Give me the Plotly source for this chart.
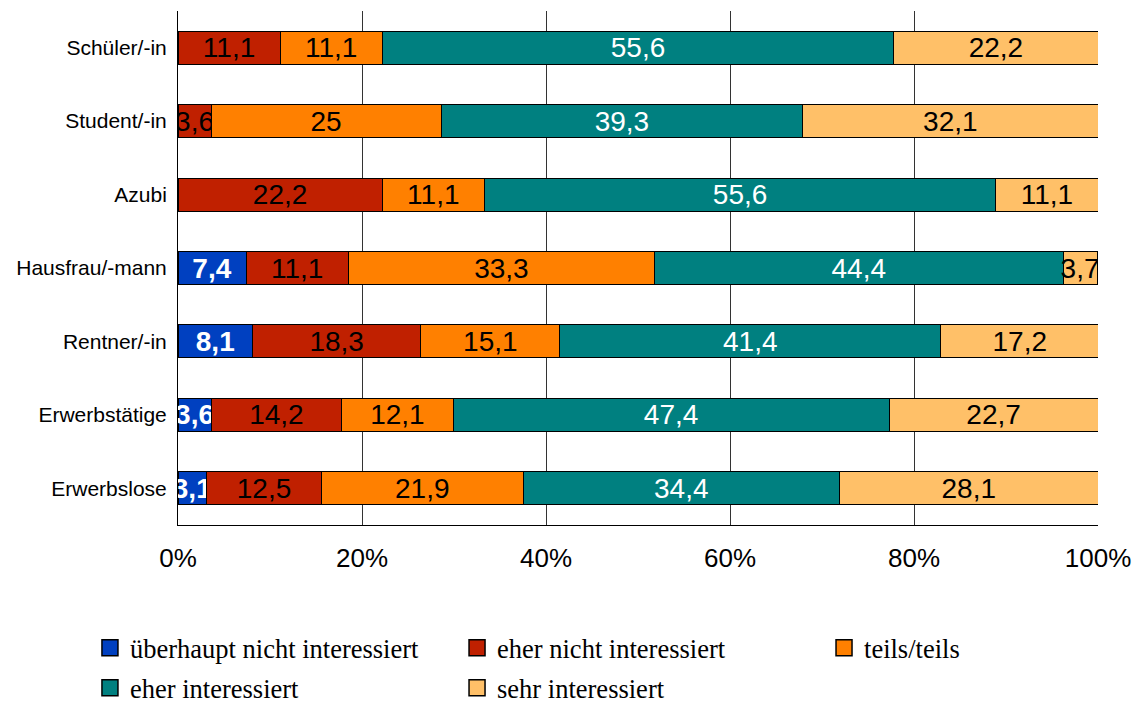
import plotly.graph_objects as go

categories = ["Schüler/-in", "Student/-in", "Azubi", "Hausfrau/-mann",
              "Rentner/-in", "Erwerbstätige", "Erwerbslose"]
series_names = ["überhaupt nicht interessiert", "eher nicht interessiert",
                "teils/teils", "eher interessiert", "sehr interessiert"]
ueberhaupt_nicht = [0, 0, 0, 7.4, 8.1, 3.6, 3.1]
eher_nicht = [11.1, 3.6, 22.2, 11.1, 18.3, 14.2, 12.5]
teils = [11.1, 25, 11.1, 33.3, 15.1, 12.1, 21.9]
eher_int = [55.6, 39.3, 55.6, 44.4, 41.4, 47.4, 34.4]
sehr_int = [22.2, 32.1, 11.1, 3.7, 17.2, 22.7, 28.1]
tick_vals = [0, 20, 40, 60, 80, 100]
tick_labels = ["0%", "20%", "40%", "60%", "80%", "100%"]

series = [ueberhaupt_nicht, eher_nicht, teils, eher_int, sehr_int]
colors = ["#0040C0", "#C02000", "#FF8000", "#008080", "#FFC068"]
text_colors = ["white", "black", "black", "white", "black"]
text_weights = ["bold", "normal", "normal", "normal", "normal"]

# legend slots (one legend per entry so the layout matches 3 + 2 rows)
legend_ids = ["legend", "legend2", "legend3", "legend4", "legend5"]
legend_x = [-0.0957, 0.3033, 0.7022, -0.0957, 0.3033]
legend_y = [-0.2393, -0.2393, -0.2393, -0.3171, -0.3171]

SANS = "Liberation Sans, Arial, sans-serif"
SERIF = "Liberation Serif, Times New Roman, serif"


def fmt(v):
    if float(v).is_integer():
        return str(int(v))
    return f"{v:.1f}".replace(".", ",")


fig = go.Figure()
for name, vals, col, tc, tw in zip(series_names, series, colors, text_colors, text_weights):
    fig.add_trace(go.Bar(
        y=categories, x=vals, orientation="h", name=name,
        marker=dict(color=col, line=dict(color="black", width=1)),
        text=[fmt(v) for v in vals], textposition="inside",
        insidetextanchor="middle", textangle=0,
        textfont=dict(color=tc, size=28, family=SANS, weight=tw),
        showlegend=False, cliponaxis=True,
    ))

for name, col, lid in zip(series_names, colors, legend_ids):
    fig.add_trace(go.Scatter(
        x=[None], y=[None], mode="markers", name=name, legend=lid,
        marker=dict(symbol="square", size=16, color=col, line=dict(color="black", width=1.5)),
        showlegend=True,
    ))

layout_legends = {}
for lid, lx, ly in zip(legend_ids, legend_x, legend_y):
    layout_legends[lid] = dict(
        orientation="h", x=lx, xanchor="left", y=ly, yanchor="middle",
        font=dict(family=SERIF, size=26.5, color="black"),
        bgcolor="rgba(0,0,0,0)", borderwidth=0,
    )

fig.update_layout(
    width=1134, height=703,
    barmode="stack", bargap=0.55,
    plot_bgcolor="white", paper_bgcolor="white",
    margin=dict(l=178, r=36, t=11, b=178, autoexpand=False),
    uniformtext=dict(minsize=28, mode="show"),
    xaxis=dict(
        range=[0, 100], tickvals=tick_vals, ticktext=tick_labels,
        showgrid=True, gridcolor="#333333", gridwidth=1,
        showline=True, linecolor="black", linewidth=1,
        zeroline=False, ticks="", ticklabelstandoff=10, automargin=False,
        tickfont=dict(family=SANS, size=26, color="black"),
    ),
    yaxis=dict(
        autorange="reversed", showline=True, linecolor="black", linewidth=1,
        showgrid=False, ticks="", ticklabelstandoff=6, automargin=False,
        tickfont=dict(family=SANS, size=21, color="black"),
    ),
    **layout_legends,
)

# remove the page's default 8px body margin so the figure fills the window exactly
fig.write_html(
    "out.html",
    config={"displayModeBar": False},
    post_script="document.body.style.margin='0';document.body.style.overflow='hidden';",
)
